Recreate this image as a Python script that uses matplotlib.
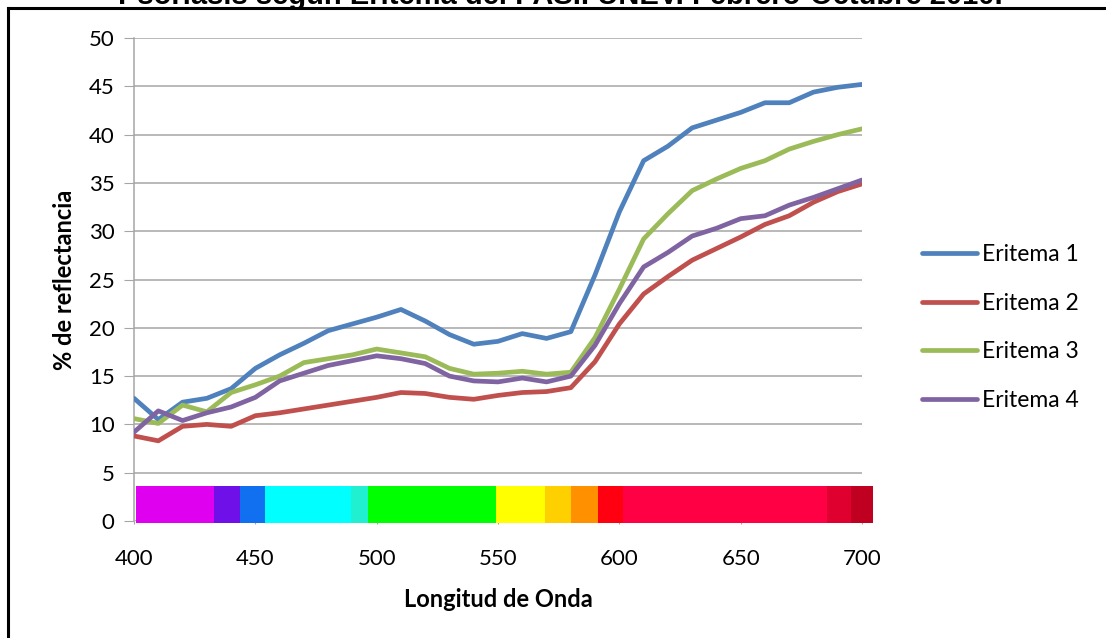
import matplotlib.pyplot as plt
from matplotlib.lines import Line2D
import numpy as np

# Datos
longitud = [400, 410, 420, 430, 440, 450, 460, 470, 480, 490, 500,
            510, 520, 530, 540, 550, 560, 570, 580, 590, 600,
            610, 620, 630, 640, 650, 660, 670, 680, 690, 700]

eritema1 = [12.7, 10.5, 12.3, 12.7, 13.7, 15.8, 17.2, 18.4, 19.7, 20.4, 21.1,
            21.9, 20.7, 19.3, 18.3, 18.6, 19.4, 18.9, 19.6, 25.5, 32.0,
            37.3, 38.8, 40.7, 41.5, 42.3, 43.3, 43.3, 44.4, 44.9, 45.2]
eritema2 = [8.8, 8.3, 9.8, 10.0, 9.8, 10.9, 11.2, 11.6, 12.0, 12.4, 12.8,
            13.3, 13.2, 12.8, 12.6, 13.0, 13.3, 13.4, 13.8, 16.5, 20.4,
            23.5, 25.3, 27.0, 28.2, 29.4, 30.7, 31.6, 33.0, 34.1, 34.9]
eritema3 = [10.6, 10.1, 12.0, 11.3, 13.3, 14.1, 15.0, 16.4, 16.8, 17.2, 17.8,
            17.4, 17.0, 15.8, 15.2, 15.3, 15.5, 15.2, 15.4, 19.0, 24.0,
            29.2, 31.8, 34.2, 35.4, 36.5, 37.3, 38.5, 39.3, 40.0, 40.6]
eritema4 = [9.2, 11.4, 10.4, 11.2, 11.8, 12.8, 14.5, 15.3, 16.1, 16.6, 17.1,
            16.8, 16.3, 15.0, 14.5, 14.4, 14.8, 14.4, 15.0, 18.2, 22.5,
            26.3, 27.8, 29.5, 30.3, 31.3, 31.6, 32.7, 33.5, 34.4, 35.3]

series = [eritema1, eritema2, eritema3, eritema4]
nombres = ["Eritema 1", "Eritema 2", "Eritema 3", "Eritema 4"]
colores = ["#4F81BD", "#C0504D", "#9BBB59", "#8064A2"]

# Banda del espectro visible (bordes en nm y colores)
bordes_espectro = [401, 433, 443.5, 454, 489.5, 496.5, 549, 569.5, 580, 591,
                   601.5, 685.5, 695.5, 704.5]
colores_espectro = ["#E000F0", "#7010E8", "#1070F0", "#00FFFF", "#20F0D0",
                    "#00FF00", "#FFFF00", "#FFD000", "#FF9000", "#FF0010",
                    "#FF0045", "#E00030", "#C00020"]

plt.rcParams['font.family'] = ['Lato', 'DejaVu Sans']

fig = plt.figure(figsize=(11.06, 6.38), dpi=100)
ax = fig.add_axes([0.1212, 0.1834, 0.6582, 0.757])

for y, nom, col in zip(series, nombres, colores):
    ax.plot(longitud, y, color=col, lw=3.4, label=nom, solid_capstyle='round',
            solid_joinstyle='round', zorder=3)

izq = bordes_espectro[:-1]
anchos = np.diff(bordes_espectro)
ax.bar(izq, 3.8, width=anchos, bottom=-0.2, align='edge', color=colores_espectro,
       clip_on=False, zorder=2, linewidth=0)

ax.set_xlim(400, 700)
ax.set_ylim(0, 50)
ax.set_xticks(range(400, 701, 50))
ax.set_yticks(range(0, 51, 5))
ax.grid(axis='y', color='#A6A6A6', lw=1.1)
ax.set_axisbelow(True)
for s in ['top', 'right', 'bottom']:
    ax.spines[s].set_visible(False)
ax.spines['left'].set_color('#A6A6A6')
ax.spines['left'].set_linewidth(1.1)
ax.tick_params(axis='y', direction='out', length=7, color='#A6A6A6', pad=7, labelsize=16)
ax.tick_params(axis='x', direction='out', length=2, color='#A6A6A6', pad=18, labelsize=16)

ax.set_xlabel("Longitud de Onda", fontsize=17, fontweight='bold', labelpad=14)
ax.set_ylabel("% de reflectancia", fontsize=17, fontweight='bold', labelpad=9)

ax.legend(loc='center left', bbox_to_anchor=(0.8255, 0.487), bbox_transform=fig.transFigure,
          frameon=False, fontsize=16.5, handlelength=2.4, handletextpad=0.2,
          labelspacing=1.2, borderaxespad=0)

# titulo cortado y marco
fig.text(0.507, 0.9937, "Psoriasis según Eritema del PASI. UNEV. Febrero-Octubre 2010.",
         ha='center', va='baseline', fontsize=21, fontweight='bold',
         family=['Liberation Sans', 'DejaVu Sans'])
fig.add_artist(Line2D([0.0075, 1.0], [0.9875, 0.9875], color='black', lw=2.2))
fig.add_artist(Line2D([0.0075, 0.0075], [0.0, 0.9875], color='black', lw=2.2))

fig.savefig("out.png", dpi=100)
